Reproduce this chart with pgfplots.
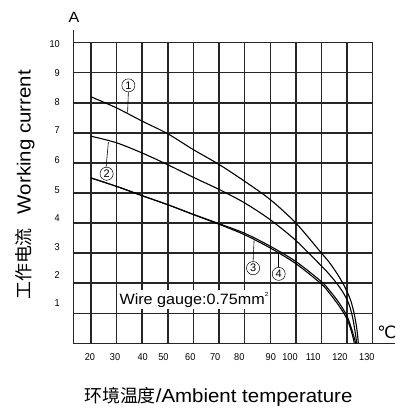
\documentclass[border=0pt]{standalone}
\usepackage{fontspec}
\setmainfont{Liberation Sans}
\newfontfamily\labfont{Liberation Sans}[FakeStretch=1.08]
\newfontfamily\tickfont{Liberation Sans}[FakeStretch=0.92]
\newfontfamily\cjk{Noto Sans CJK SC}
\newfontfamily\sym{DejaVu Sans}
\usepackage{pgfplots}
\pgfplotsset{compat=1.18}
\begin{document}
\begin{tikzpicture}
\begin{axis}[
  scale only axis,
  width=299.4bp, height=300.6bp,
  at={(0,0)}, anchor=south west,
  xmin=13.1, xmax=130, ymin=0, ymax=10,
  clip=false,
  axis line style={line width=1.4pt, black!85},
  grid=major,
  major grid style={line width=1.4pt, black!85},
  xtick={20,30,...,120}, xticklabels={},
  ytick={1,2,...,9}, yticklabels={},
  major tick length=0pt,
  extra x ticks={19.6,29.4,40.2,48.3,58.8,68.5,77.9,90.2,97.7,106.8,117.2,127.7},
  extra x tick labels={20,30,40,50,60,70,80,90,100,110,120,130},
  extra y ticks={1.34,2.28,3.21,4.18,5.11,6.09,7.08,8.01,8.98,9.94},
  extra y tick labels={1,2,3,4,5,6,7,8,9,10},
  extra x tick style={grid=none, major tick length=0pt},
  extra y tick style={grid=none, major tick length=0pt},
  xticklabel style={font=\tickfont\fontsize{10}{12}\selectfont, yshift=-7bp},
  yticklabel style={font=\tickfont\fontsize{10}{12}\selectfont, xshift=-10bp},
]
\addplot[black, line width=1.1pt, smooth, tension=0.5] coordinates {
(20,8.2)(30,7.83)(40,7.39)(50,6.97)(60,6.44)(70,5.95)(80,5.39)(90,4.78)(100,4.0)(110,3.0)(113,2.7)(116,2.33)(118,2.05)(120,1.72)(121.5,1.4)(122.6,1.05)(123.4,0.7)(124,0.35)(124.4,0)};
\addplot[black, line width=1.1pt, smooth, tension=0.5] coordinates {
(20,6.89)(30,6.67)(40,6.33)(50,5.94)(60,5.52)(70,5.12)(80,4.67)(90,4.11)(100,3.42)(110,2.57)(113,2.3)(116,1.99)(118,1.75)(120,1.45)(121.3,1.15)(122.3,0.8)(123.1,0.4)(123.8,0)};
\addplot[black, line width=1.1pt, smooth, tension=0.5] coordinates {
(20,5.5)(30,5.22)(40,4.91)(50,4.61)(60,4.28)(70,3.96)(80,3.61)(90,3.17)(100,2.65)(110,1.97)(113,1.68)(116,1.35)(118,1.1)(119.7,0.85)(121,0.58)(122,0.3)(122.5,0.13)(122.8,0)};
\addplot[black, line width=1.1pt, smooth, tension=0.5] coordinates {
(20,5.5)(30,5.22)(40,4.91)(50,4.61)(60,4.29)(70,3.98)(80,3.66)(90,3.23)(100,2.72)(110,2.05)(113,1.77)(116,1.45)(118,1.2)(120,0.9)(121.3,0.6)(122.4,0.3)(123,0.12)(123.3,0)};
% axis extensions
\draw[line width=1.4pt, black!85] (axis cs:13.1,10) -- (axis cs:13.1,10.42);
\draw[line width=1.4pt, black!85] (axis cs:130,0) -- (axis cs:138.7,0);
% leaders and circled labels
\draw[black, line width=0.6pt] (axis cs:34.6,8.36) -- (axis cs:34.3,7.67);
\node[circle, draw, line width=0.5pt, inner sep=1.2pt, font=\fontsize{11}{12}\selectfont] at (axis cs:34.6,8.58) {1};
\draw[black, line width=0.6pt] (axis cs:26.8,6.69) -- (axis cs:25.9,5.86);
\node[circle, draw, line width=0.5pt, inner sep=1.2pt, font=\fontsize{11}{12}\selectfont] at (axis cs:26.1,5.64) {2};
\draw[black, line width=0.6pt] (axis cs:83.3,2.72) -- (axis cs:83.7,3.45);
\node[circle, draw, line width=0.5pt, inner sep=1.2pt, font=\fontsize{11}{12}\selectfont] at (axis cs:83.3,2.5) {3};
\draw[black, line width=0.6pt] (axis cs:93.2,2.53) -- (axis cs:93.2,3.03);
\node[circle, draw, line width=0.5pt, inner sep=1.2pt, font=\fontsize{11}{12}\selectfont] at (axis cs:93.3,2.31) {4};
% wire gauge
\node[fill=white, anchor=west, inner sep=2pt, font=\labfont\fontsize{15}{17}\selectfont] at (axis cs:30.3,1.45) {Wire gauge:0.75mm\raisebox{0.55em}{\fontsize{6}{7}\selectfont 2}};
\end{axis}
\node[font=\labfont\fontsize{15}{17}\selectfont] at (0.7bp,326.3bp) {A};
\node[font=\sym\fontsize{17}{19}\selectfont] at (313.7bp,10.8bp) {℃};
\node[rotate=90, font=\labfont\fontsize{19}{21}\selectfont] at (-48.3bp,158.3bp) {{\cjk\fontsize{18}{20}\selectfont 工作电流}\hspace{14bp}Working current};
\node[font=\labfont\fontsize{19}{21}\selectfont] at (145bp,-53.7bp) {{\cjk\fontsize{18}{20}\selectfont 环境温度}/Ambient temperature};
\pgfresetboundingbox
\path[use as bounding box] (-73.3bp,-64.7bp) rectangle (332.7bp,343.3bp);
\end{tikzpicture}
\end{document}
